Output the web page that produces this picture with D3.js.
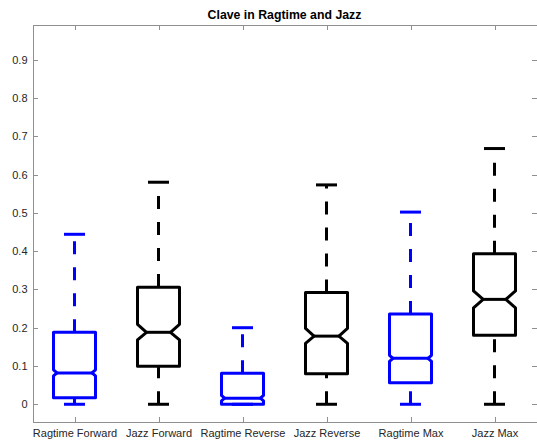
<!DOCTYPE html>
<html>
<head>
<meta charset="utf-8">
<script src="https://cdn.jsdelivr.net/npm/d3@7"></script>
<style>
  html, body { margin: 0; padding: 0; background: #fff; }
  svg { display: block; font-family: "Liberation Sans", Arial, Helvetica, sans-serif; }
</style>
</head>
<body>
<svg id="chart" width="537" height="441"></svg>
<script>
// Groups along the x axis
const categories = ["Ragtime Forward", "Jazz Forward", "Ragtime Reverse", "Jazz Reverse", "Ragtime Max", "Jazz Max"];
// Five-number summaries per group
const whiskerLow  = [0.000, 0.000, 0.000, 0.000, 0.000, 0.000];
const quartile1   = [0.017, 0.099, 0.000, 0.080, 0.056, 0.180];
const medians     = [0.082, 0.188, 0.016, 0.178, 0.120, 0.274];
const quartile3   = [0.188, 0.306, 0.081, 0.292, 0.236, 0.393];
const whiskerHigh = [0.444, 0.580, 0.200, 0.573, 0.502, 0.668];
// Notch extents around each median
const notchLow    = [0.074, 0.168, 0.009, 0.159, 0.112, 0.252];
const notchHigh   = [0.090, 0.209, 0.023, 0.198, 0.128, 0.296];
// Colour per group
const groupColors = ["#0000ff", "#000000", "#0000ff", "#000000", "#0000ff", "#000000"];
// Y tick values
const yTicks = [0, 0.1, 0.2, 0.3, 0.4, 0.5, 0.6, 0.7, 0.8, 0.9];

const svg = d3.select("#chart");
const plotLeft = 32.5, plotRight = 536.5, plotTop = 24.5, plotBottom = 421.5;

const x = d3.scaleLinear().domain([0.5, 6.5]).range([plotLeft, plotRight]);
const y = d3.scaleLinear().domain([-0.045, 0.992]).range([plotBottom, plotTop]);

const axisLine = "#8f8f8f";
const textCol = "#262626";

// Axes: ticks point inwards on all four sides
const gx = svg.append("g").attr("transform", `translate(0,${plotBottom})`)
  .call(d3.axisBottom(x).tickValues(d3.range(1, 7)).tickFormat(i => categories[i - 1])
    .tickSize(-5).tickSizeOuter(0).tickPadding(8));
const gxt = svg.append("g").attr("transform", `translate(0,${plotTop})`)
  .call(d3.axisTop(x).tickValues(d3.range(1, 7)).tickFormat("").tickSize(-5).tickSizeOuter(0));
const gy = svg.append("g").attr("transform", `translate(${plotLeft},0)`)
  .call(d3.axisLeft(y).tickValues(yTicks).tickFormat(d => d === 0 ? "0" : d3.format(".1f")(d))
    .tickSize(-5).tickSizeOuter(0).tickPadding(5));
const gyr = svg.append("g").attr("transform", `translate(${plotRight},0)`)
  .call(d3.axisRight(y).tickValues(yTicks).tickFormat("").tickSize(-5).tickSizeOuter(0));

[gx, gxt, gy, gyr].forEach(g => {
  g.select(".domain").attr("stroke", axisLine).attr("shape-rendering", "crispEdges");
  g.selectAll(".tick line").attr("stroke", axisLine).attr("shape-rendering", "crispEdges");
  g.selectAll(".tick text").attr("fill", textCol).style("font-size", "11px")
    .style("font-family", "'Liberation Sans', Arial, Helvetica, sans-serif");
});

// Title
svg.append("text")
  .attr("x", (plotLeft + plotRight) / 2).attr("y", 19)
  .attr("text-anchor", "middle")
  .style("font-size", "12.3px").style("font-weight", "bold").attr("fill", "#000")
  .text("Clave in Ragtime and Jazz");

// Box geometry in x-data units; notch depth follows the notch height
const halfBox = 0.25, capHalf = 0.125, notchSlope = 1.15, notchMaxPx = 11;

const plot = svg.append("g");
categories.forEach((cat, i) => {
  const c = i + 1;
  const col = groupColors[i];
  const g = plot.append("g")
    .attr("fill", "none").attr("stroke", col).attr("stroke-width", 3)
    .attr("stroke-linejoin", "round");

  // Whiskers: dashed lines drawn from the lower value upwards
  g.append("line")
    .attr("x1", x(c)).attr("x2", x(c))
    .attr("y1", y(whiskerLow[i])).attr("y2", y(quartile1[i]))
    .attr("stroke-dasharray", "13,13");
  g.append("line")
    .attr("x1", x(c)).attr("x2", x(c))
    .attr("y1", y(quartile3[i])).attr("y2", y(whiskerHigh[i]))
    .attr("stroke-dasharray", "13,13");

  // Whisker caps
  [whiskerLow[i], whiskerHigh[i]].forEach(v => {
    g.append("line")
      .attr("x1", x(c - capHalf)).attr("x2", x(c + capHalf))
      .attr("y1", y(v)).attr("y2", y(v));
  });

  // Notched box outline
  const l = x(c - halfBox), r = x(c + halfBox);
  const notchHalfPx = Math.abs(y(notchLow[i]) - y(notchHigh[i])) / 2;
  const inset = Math.min(notchMaxPx, notchSlope * notchHalfPx);
  const li = l + inset, ri = r - inset;
  const pts = [
    [l, y(quartile1[i])], [l, y(notchLow[i])], [li, y(medians[i])], [l, y(notchHigh[i])],
    [l, y(quartile3[i])], [r, y(quartile3[i])], [r, y(notchHigh[i])], [ri, y(medians[i])],
    [r, y(notchLow[i])], [r, y(quartile1[i])]
  ];
  g.append("path").attr("d", d3.line()(pts) + "Z");

  // Median
  g.append("line")
    .attr("x1", li).attr("x2", ri)
    .attr("y1", y(medians[i])).attr("y2", y(medians[i]));
});
</script>
</body>
</html>
